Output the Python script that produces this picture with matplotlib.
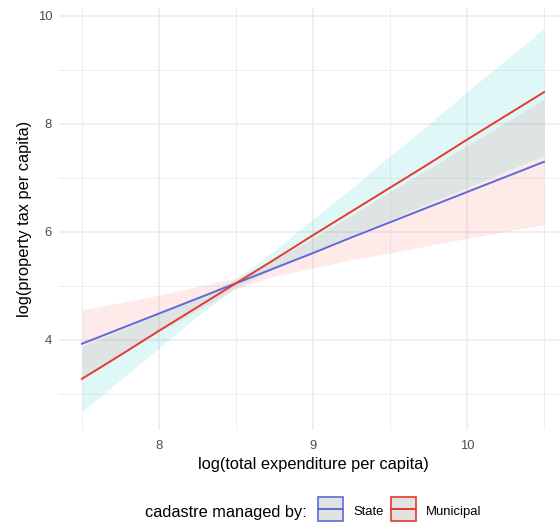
import matplotlib
matplotlib.use("Agg")
import matplotlib.pyplot as plt
from matplotlib.patches import Rectangle
from matplotlib.lines import Line2D
import numpy as np

plt.rcParams['font.family'] = ['Liberation Sans', 'DejaVu Sans']

# x grid for fitted lines / ribbons
x_fit = [7.5, 7.75, 8.0, 8.25, 8.5, 8.75, 9.0, 9.25, 9.5, 9.75, 10.0, 10.25, 10.5]
# State fit (blue line, pink ribbon)
state_fit = [3.93, 4.21, 4.49, 4.77, 5.05, 5.33, 5.61, 5.90, 6.18, 6.46, 6.74, 7.02, 7.30]
state_lo = [3.30, 3.73, 4.15, 4.55, 4.95, 5.18, 5.33, 5.49, 5.61, 5.75, 5.88, 6.01, 6.14]
state_hi = [4.56, 4.69, 4.83, 4.99, 5.15, 5.48, 5.89, 6.31, 6.75, 7.17, 7.60, 8.03, 8.46]
# Municipal fit (red line, cyan ribbon)
muni_fit = [3.28, 3.72, 4.17, 4.61, 5.05, 5.49, 5.94, 6.38, 6.82, 7.26, 7.71, 8.15, 8.59]
muni_lo = [2.67, 3.26, 3.85, 4.44, 4.97, 5.32, 5.64, 5.95, 6.23, 6.53, 6.82, 7.12, 7.41]
muni_hi = [3.89, 4.18, 4.49, 4.78, 5.13, 5.66, 6.24, 6.81, 7.41, 7.99, 8.60, 9.18, 9.77]

legend_title = "cadastre managed by:"
legend_labels = ["State", "Municipal"]
x_ticks = [8, 9, 10]
y_ticks = [4, 6, 8, 10]

W, H = 560, 523
fig = plt.figure(figsize=(W / 100, H / 100), dpi=100)
ax = fig.add_axes([59 / W, (H - 430) / H, (567 - 59) / W, (430 - 8) / H])
ax.set_xlim(7.351, 10.649)
ax.set_ylim(2.333, 10.148)

for s in ax.spines.values():
    s.set_visible(False)

grid_c = '#EBEBEB'
for v in [7.5, 8.5, 9.5, 10.5]:
    ax.axvline(v, color=grid_c, lw=0.6, zorder=0)
for v in x_ticks:
    ax.axvline(v, color=grid_c, lw=1.1, zorder=0)
for v in [3, 5, 7, 9]:
    ax.axhline(v, color=grid_c, lw=0.6, zorder=0)
for v in y_ticks:
    ax.axhline(v, color=grid_c, lw=1.1, zorder=0)

pink = '#F8766D'
cyan = '#00BFC4'
blue = '#5B6BD9'
red = '#E8392F'

ax.fill_between(x_fit, state_lo, state_hi, color=pink, alpha=0.15, lw=0, zorder=1)
ax.fill_between(x_fit, muni_lo, muni_hi, color=cyan, alpha=0.12, lw=0, zorder=1)
ax.plot(x_fit, state_fit, color=blue, lw=1.4, zorder=3)
ax.plot(x_fit, muni_fit, color=red, lw=1.4, zorder=3)

ax.set_xticks(x_ticks)
ax.set_yticks(y_ticks)
ax.tick_params(length=0, labelsize=9.4, labelcolor='#4D4D4D')
ax.tick_params(axis='x', pad=7.5)
ax.tick_params(axis='y', pad=5)
ax.set_xlabel("log(total expenditure per capita)", fontsize=11.8, color='black', labelpad=3)
ax.set_ylabel("log(property tax per capita)", fontsize=11.8, color='black', labelpad=4)

# legend (manual, bottom)
def px(x, y):
    return x / W, (H - y) / H

fig.text(*px(145, 512), legend_title, fontsize=11.8, va='center', ha='left')
keys = [(318, blue, 353, legend_labels[0]), (391, red, 426, legend_labels[1])]
for kx, col, tx, lab in keys:
    x0, y0 = px(kx, 521)
    r = Rectangle((x0, y0), 25 / W, 24 / H, transform=fig.transFigure,
                  facecolor='#E2E2E2', edgecolor=col, lw=1.2)
    fig.add_artist(r)
    lx0, ly = px(kx, 509)
    lx1, _ = px(kx + 25, 509)
    fig.add_artist(Line2D([lx0, lx1], [ly, ly], transform=fig.transFigure, color=col, lw=1.4))
    fig.text(*px(tx, 512), lab, fontsize=9.4, va='center', ha='left')

fig.savefig("out.png", dpi=100, facecolor='white')
